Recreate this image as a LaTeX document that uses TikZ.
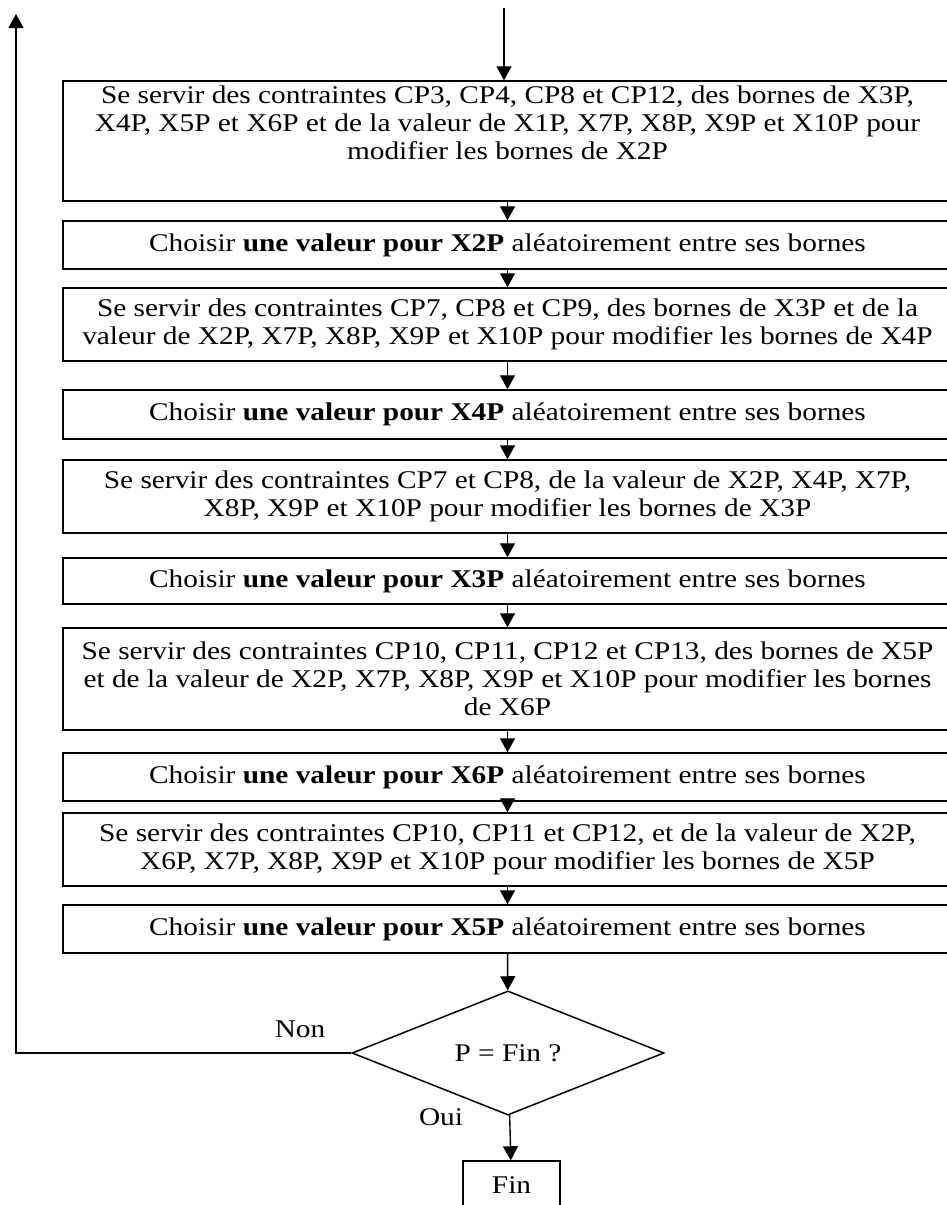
\documentclass[tikz,border=0pt]{standalone}
\usepackage{fontspec}
\setmainfont{Liberation Serif}[FakeStretch=1.15]
\usetikzlibrary{arrows.meta,shapes.geometric}

\begin{document}
\begin{tikzpicture}[x=1pt,y=-1pt,
  texte/.style={font=\fontsize{25.5}{28}\selectfont},
  etape/.style={texte,draw,line width=1.5pt,minimum width=889pt,inner sep=0pt,align=center},
  decision/.style={texte,draw,diamond,line width=1.5pt,minimum width=312pt,minimum height=72pt,inner sep=0pt},
  fleche/.style={line width=1.4pt,-{Triangle[length=14pt,width=15pt]}}]
  \useasboundingbox (0,0) rectangle (946,1205);
  % les etapes
  \node[etape,minimum height=120pt] (b1) at (507.5,141) {Se servir des contraintes CP3, CP4, CP8 et CP12, des bornes de X3P,\\
    X4P, X5P et X6P et de la valeur de X1P, X7P, X8P, X9P et X10P pour\\
    modifier les bornes de X2P\\[8pt]\mbox{}};
  \node[etape,minimum height=48pt] (b2) at (507.5,245) {Choisir \textbf{une valeur pour X2P} aléatoirement entre ses bornes};
  \node[etape,minimum height=73pt] (b3) at (507.5,324.5) {Se servir des contraintes CP7, CP8 et CP9, des bornes de X3P et de la\\
    valeur de X2P, X7P, X8P, X9P et X10P pour modifier les bornes de X4P};
  \node[etape,minimum height=49pt] (b4) at (507.5,414.5) {Choisir \textbf{une valeur pour X4P} aléatoirement entre ses bornes};
  \node[etape,minimum height=73pt] (b5) at (507.5,496.5) {Se servir des contraintes CP7 et CP8, de la valeur de X2P, X4P, X7P,\\
    X8P, X9P et X10P pour modifier les bornes de X3P};
  \node[etape,minimum height=46pt] (b6) at (507.5,581) {Choisir \textbf{une valeur pour X3P} aléatoirement entre ses bornes};
  \node[etape,minimum height=102pt] (b7) at (507.5,679) {Se servir des contraintes CP10, CP11, CP12 et CP13, des bornes de X5P\\
    et de la valeur de X2P, X7P, X8P, X9P et X10P pour modifier les bornes\\
    de X6P};
  \node[etape,minimum height=48pt] (b8) at (507.5,777) {Choisir \textbf{une valeur pour X6P} aléatoirement entre ses bornes};
  \node[etape,minimum height=73pt] (b9) at (507.5,849.5) {Se servir des contraintes CP10, CP11 et CP12, et de la valeur de X2P,\\
    X6P, X7P, X8P, X9P et X10P pour modifier les bornes de X5P};
  \node[etape,minimum height=48pt] (b10) at (507.5,929) {Choisir \textbf{une valeur pour X5P} aléatoirement entre ses bornes};
  % test et fin
  \node[decision] (test) at (508,1053) {P = Fin ?};
  \node[texte,draw,line width=1.5pt,minimum width=97pt,minimum height=48pt] (fin) at (511.5,1185) {Fin};
  \node[texte] (non) at (300,1029) {Non};
  \node[texte] (oui) at (441,1117) {Oui};
  % fleches
  \coordinate (entree) at (504,8);
  \coordinate (retour) at (16,14);
  \draw[fleche] (entree) -- (entree |- b1.north);
  \foreach \a/\b in {b1/b2,b2/b3,b3/b4,b4/b5,b5/b6,b6/b7,b7/b8,b8/b9,b9/b10,b10/test}
    \draw[fleche] (\a) -- (\b);
  \draw[fleche] (test) -- (fin);
  \draw[fleche] (test.west) -| (retour);
\end{tikzpicture}
\end{document}
